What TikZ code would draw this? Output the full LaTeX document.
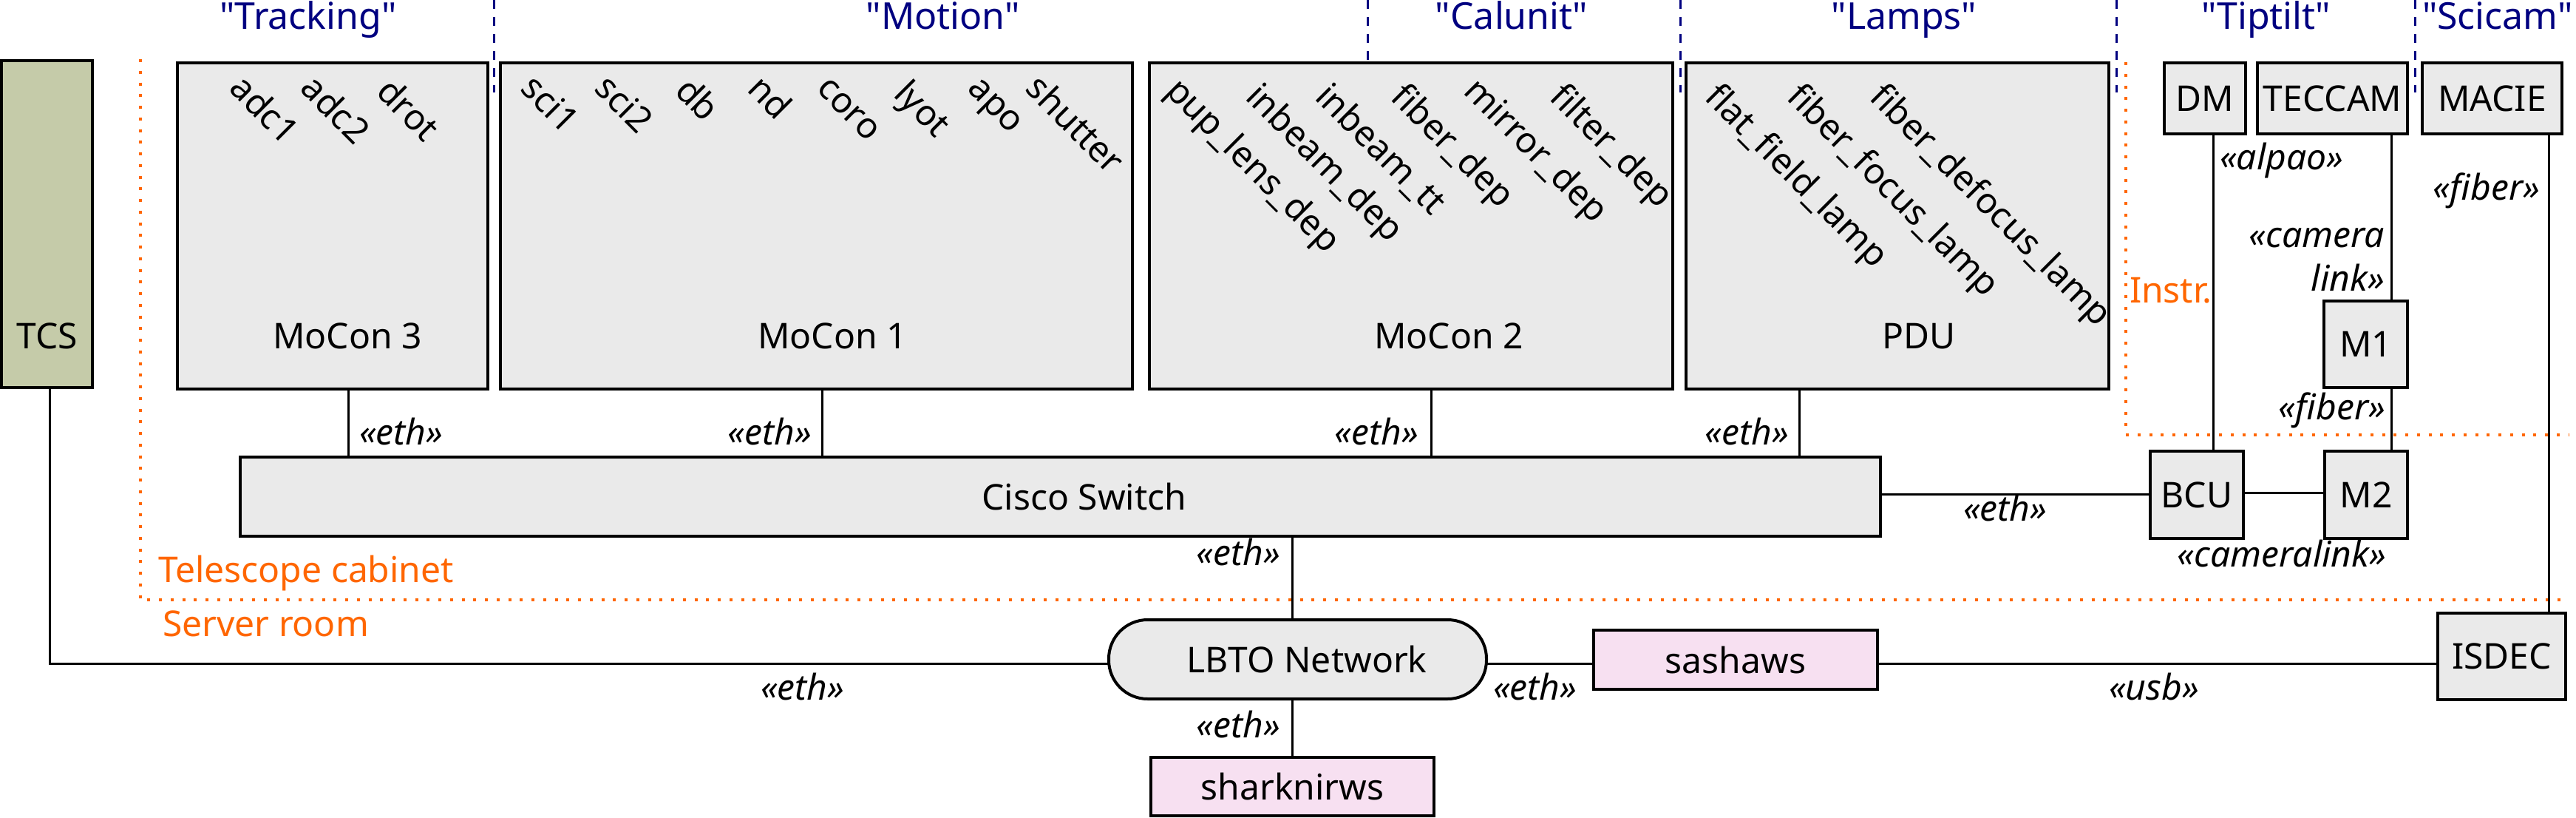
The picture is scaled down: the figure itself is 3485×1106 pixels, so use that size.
\documentclass[tikz,border=0pt]{standalone}
\usepackage{fontspec}
\setmainfont{Noto Sans}
\newcommand\sq{\XeTeXglyph\XeTeXcharglyph"22\relax}
\definecolor{boxgray}{RGB}{234,234,234}
\definecolor{tcsgreen}{RGB}{197,203,169}
\definecolor{wspink}{RGB}{247,224,241}
\definecolor{zoneorange}{RGB}{255,102,0}
\definecolor{titlenavy}{RGB}{0,0,128}
\begin{document}
\begin{tikzpicture}[x=0.2pt,y=-0.2pt,
  every node/.style={font=\fontsize{9.6pt}{11.8pt}\selectfont, inner sep=0pt, outer sep=0pt},
  sz/.style 2 args={minimum width=#1*0.2pt, minimum height=#2*0.2pt},
  box/.style={draw, line width=0.8pt, fill=boxgray, rectangle, anchor=north west},
  conn/.style={line width=0.6pt},
  rot/.style={rotate=-45, anchor=base west},
  stereo/.style={font=\fontsize{9.6pt}{11.8pt}\selectfont\itshape},
  zone/.style={draw=zoneorange, line width=0.8pt, dash pattern=on 0.8pt off 2.35pt},
  zonelabel/.style={text=zoneorange, anchor=base west},
  sep/.style={draw=titlenavy, line width=0.6pt, dash pattern=on 2.4pt off 2.2pt},
  title/.style={text=titlenavy, anchor=base, font=\fontsize{10pt}{12pt}\selectfont},
]
\useasboundingbox (0,0) rectangle (3485,1106);

% zones
\draw[zone] (190,80) -- (190,811) -- (3475,811);
\draw[zone] (2876,84) -- (2876,588) -- (3475,588);
\node[zonelabel] (z-tel) at (214,787) {Telescope cabinet};
\node[zonelabel] (z-srv) at (220,860) {Server room};
\node[zonelabel] (z-ins) at (2881,409) {Instr.};

% group separators and titles
\foreach \x/\n in {668/s1,1850/s2,2273/s3,2863/s4,3267/s5}
  \draw[sep] (\x,0) -- (\x,125);
\node[title] (t-track) at (417,39) {\sq Tracking\sq};
\node[title] (t-motion) at (1276,39) {\sq Motion\sq};
\node[title] (t-cal) at (2045,39) {\sq Calunit\sq};
\node[title] (t-lamps) at (2576,39) {\sq Lamps\sq};
\node[title] (t-tip) at (3066,39) {\sq Tiptilt\sq};
\node[title] (t-sci) at (3379,39) {\sq Scicam\sq};

% boxes
\node[box, fill=tcsgreen, sz={123}{442}, label={[anchor=base, yshift=10.6pt]south:TCS}] (tcs) at (2,82) {};
\node[box, sz={420}{441}, label={[anchor=base, yshift=11pt, xshift=4pt]south:MoCon 3}] (mocon3) at (240,85) {};
\node[box, sz={855}{441}, label={[anchor=base, yshift=11pt, xshift=4.3pt]south:MoCon 1}] (mocon1) at (677,85) {};
\node[box, sz={708}{441}, label={[anchor=base, yshift=11pt, xshift=10.2pt]south:MoCon 2}] (mocon2) at (1555,85) {};
\node[box, sz={572}{441}, label={[anchor=base, yshift=11pt, xshift=5.8pt]south:PDU}] (pdu) at (2281,85) {};
\node[box, sz={110}{96}] (dm) at (2928,85) {DM};
\node[box, sz={203}{96}] (teccam) at (3054,85) {TECCAM};
\node[box, sz={189}{96}] (macie) at (3277,85) {MACIE};
\node[box, sz={113}{117}] (m1) at (3144,407) {M1};
\node[box, sz={126}{118}] (bcu) at (2909,610) {BCU};
\node[box, sz={112}{118}] (m2) at (3145,610) {M2};
\node[box, sz={2219}{107}, label={[anchor=base, yshift=7.2pt, xshift=6.5pt]south:Cisco Switch}] (cisco) at (325,618) {};
\node[box, rounded corners=10.5pt, sz={511}{107}] (lbto) at (1500,838) {\hspace*{5pt}LBTO Network};
\node[box, fill=wspink, sz={384}{80}] (sashaws) at (2156,852) {sashaws};
\node[box, fill=wspink, sz={383}{79}] (sharknirws) at (1557,1024) {sharknirws};
\node[box, sz={173}{117}] (isdec) at (3298,829) {ISDEC};

% rotated device names
\node[rot] (r-adc1) at (308,122) {adc1};
\node[rot] (r-adc2) at (404,122) {adc2};
\node[rot] (r-drot) at (507,127) {drot};
\node[rot] (r-sci1) at (702,122) {sci1};
\node[rot] (r-sci2) at (802,122) {sci2};
\node[rot] (r-db) at (911,125) {db};
\node[rot] (r-nd) at (1009,123) {nd};
\node[rot] (r-coro) at (1103,122) {coro};
\node[rot] (r-lyot) at (1207,129) {lyot};
\node[rot] (r-apo) at (1307,122) {apo};
\node[rot] (r-shut) at (1385,122) {shutter};
\node[rot] (r-pup) at (1575,125) {pup\_lens\_dep};
\node[rot] (r-ibd) at (1683,133) {inbeam\_dep};
\node[rot] (r-ibt) at (1777,133) {inbeam\_tt};
\node[rot] (r-fib) at (1879,133) {fiber\_dep};
\node[rot] (r-mir) at (1978,125) {mirror\_dep};
\node[rot] (r-fil) at (2094,133) {filter\_dep};
\node[rot] (r-flat) at (2304,133) {flat\_field\_lamp};
\node[rot] (r-ffl) at (2415,133) {fiber\_focus\_lamp};
\node[rot] (r-fdl) at (2527,133) {fiber\_defocus\_lamp};

% connector positions
\coordinate (x-m3) at (471,0);
\coordinate (x-m1) at (1112,0);
\coordinate (x-m2) at (1936,0);
\coordinate (x-pdu) at (2434,0);
\coordinate (x-net) at (1748,0);
\coordinate (x-tcs) at (67,0);
\coordinate (x-dm) at (2994,0);
\coordinate (x-tec) at (3235,0);
\coordinate (x-mac) at (3448,0);
\coordinate (y-net) at (0,897);
\coordinate (y-cb) at (0,668);
\coordinate (y-bm) at (0,666);

% connectors
\draw[conn] (mocon3.south -| x-m3) -- (cisco.north -| x-m3);
\draw[conn] (mocon1.south -| x-m1) -- (cisco.north -| x-m1);
\draw[conn] (mocon2.south -| x-m2) -- (cisco.north -| x-m2);
\draw[conn] (pdu.south -| x-pdu) -- (cisco.north -| x-pdu);
\draw[conn] (cisco.south -| x-net) -- (lbto.north -| x-net);
\draw[conn] (lbto.south -| x-net) -- (sharknirws.north -| x-net);
\draw[conn] (tcs.south -| x-tcs) |- (lbto.west |- y-net);
\draw[conn] (lbto.east |- y-net) -- (sashaws.west |- y-net);
\draw[conn] (sashaws.east |- y-net) -- (isdec.west |- y-net);
\draw[conn] (cisco.east |- y-cb) -- (bcu.west |- y-cb);
\draw[conn] (bcu.east |- y-bm) -- (m2.west |- y-bm);
\draw[conn] (dm.south -| x-dm) -- (bcu.north -| x-dm);
\draw[conn] (teccam.south -| x-tec) -- (m1.north -| x-tec);
\draw[conn] (m1.south -| x-tec) -- (m2.north -| x-tec);
\draw[conn] (macie.south -| x-mac) -- (isdec.north -| x-mac);

% connector labels
\node[stereo, anchor=base west] (l-m3) at (486,601) {«eth»};
\node[stereo, anchor=base east] (l-m1) at (1098,601) {«eth»};
\node[stereo, anchor=base east] (l-m2) at (1919,601) {«eth»};
\node[stereo, anchor=base east] (l-pdu) at (2420,601) {«eth»};
\node[stereo, anchor=base east] (l-net) at (1732,764) {«eth»};
\node[stereo, anchor=base east] (l-shark) at (1732,997) {«eth»};
\node[stereo, anchor=base west] (l-tcs) at (1029,946) {«eth»};
\node[stereo, anchor=base west] (l-sasha) at (2020,946) {«eth»};
\node[stereo, anchor=base west] (l-cb) at (2656,704) {«eth»};
\node[stereo, anchor=base] (l-bm) at (3087,766) {«cameralink»};
\node[stereo, anchor=base west] (l-usb) at (2853,946) {«usb»};
\node[stereo, anchor=base west] (l-alpao) at (3003,229) {«alpao»};
\node[stereo, anchor=base east] (l-mac) at (3436,271) {«fiber»};
\node[stereo, anchor=base east, align=right] (l-cam) at (3226,393) {«camera\\link»};
\node[stereo, anchor=base east] (l-m1m2) at (3227,567) {«fiber»};
\end{tikzpicture}
\end{document}
